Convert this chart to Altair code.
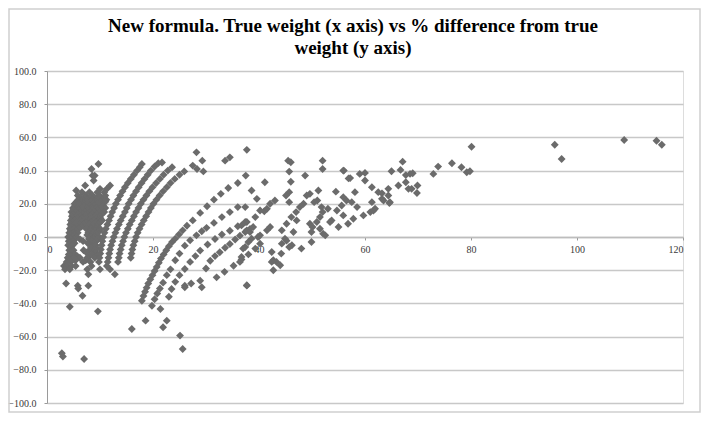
import altair as alt
import pandas as pd

# ---- data ----
title_lines = ["New formula. True weight (x axis) vs % difference from true", "weight (y axis)"]
x_ticks = [0, 20, 40, 60, 80, 100, 120]
y_ticks = [-100, -80, -60, -40, -20, 0, 20, 40, 60, 80, 100]

# dense cloud at low true weight: (y level, x positions)
blob_rows = [
    (44, [9.7]), (41, [8.4]), (37, [8.6, 9.0]), (34, [8.8]), (31, [7.2, 11.9]),
    (29, [10.0, 11.3]), (28, [5.5]), (27, [6.6, 8.0, 9.5, 10.8]), (25, [5.8, 7.3, 8.6, 9.9, 11.0]),
    (23.75, [6.3, 7.2, 8.1, 9.0, 9.9, 10.8]),
    (22.5, [5.9, 6.7, 7.6, 8.5, 9.4, 10.3, 11.2]),
    (21.25, [5.6, 6.5, 7.4, 8.3, 9.2, 10.1, 11.0]),
    (20, [5.2, 6.0, 6.9, 7.8, 8.7, 9.6, 10.5]),
    (18.75, [5.3, 6.2, 7.1, 8.0, 8.9, 9.8, 10.6]),
    (17.5, [4.9, 5.7, 6.6, 7.5, 8.4, 9.3, 10.2, 11.0]),
    (16.25, [5.0, 5.9, 6.8, 7.7, 8.6, 9.5, 10.4]),
    (15, [4.6, 5.4, 6.3, 7.2, 8.1, 9.0, 9.9, 10.8]),
    (13.75, [4.9, 5.8, 6.7, 7.6, 8.5, 9.4, 10.3]),
    (12.5, [4.7, 5.5, 6.4, 7.3, 8.2, 9.1, 10.0]),
    (11.25, [4.8, 5.7, 6.6, 7.5, 8.4, 9.3, 10.1]),
    (10, [4.5, 5.3, 6.2, 7.1, 8.0, 8.9, 9.8, 10.4]),
    (8.75, [4.7, 5.6, 6.5, 7.4, 8.3, 9.2, 10.0]),
    (7.5, [4.4, 5.2, 6.1, 7.0, 7.9, 8.8, 9.6]),
    (6.25, [4.6, 5.5, 6.5, 7.8, 8.7, 9.5]),
    (5, [4.3, 5.1, 6.0, 7.4, 8.3, 9.2, 10.0]),
    (3.75, [4.5, 5.4, 8.2, 9.1, 9.9]),
    (2.5, [4.2, 5.0, 5.8, 7.8, 8.7, 9.5]),
    (1.25, [4.4, 5.2, 7.6, 8.6, 9.4]),
    (0, [4.0, 4.9, 5.6, 8.2, 9.0, 9.8]),
    (-1.25, [4.4, 5.3, 6.2, 7.9, 8.8, 9.6]),
    (-2.5, [4.1, 4.9, 6.8, 8.4, 9.3]),
    (-3.75, [4.4, 5.2, 7.7, 8.8]),
    (-5, [4.0, 4.8, 8.3, 9.2]),
    (-6.5, [4.5, 8.3, 9.3]),
    (-8, [4.2, 5.0, 6.9, 8.0, 9.0]),
    (-9.25, [4.6, 7.4, 9.1]),
    (-10.5, [4.1, 5.3, 8.5, 9.6]),
    (-11.5, [4.5, 5.7, 8.0]),
    (-12.5, [3.9, 5.0, 6.2, 7.6, 9.0]),
    (-14, [4.2, 5.4, 7.3]),
    (-15, [3.7, 4.5, 6.8, 8.2]),
    (-17.5, [3.2, 3.8, 4.6, 5.4, 8.4]),
    (-19.5, [3.4, 4.3, 7.6, 10.0, 11.9]),
    (-22.5, [7.8, 12.8]), (-28, [3.6]), (-29.3, [5.8, 7.8]), (-31, [5.9]),
    (-35.4, [6.7]), (-42, [4.3]), (-44.8, [9.6]),
    (-70, [2.8]), (-72, [3.0]), (-73.5, [7.0]),
]

# four dense arcs
arcA_x = [9.8, 9.9, 10.05, 10.15, 10.3, 10.45, 10.6, 10.85, 11.1, 11.4, 11.7, 12.0, 12.3, 12.65, 13.0, 13.4, 13.8, 14.25, 14.7, 15.25, 15.8, 16.4, 17.0, 17.5, 17.9]
arcA_y = [-15, -12.5, -10, -7.5, -5, -2.5, 0, 2.5, 5, 7.5, 10, 12.5, 15, 17.5, 20, 22.5, 25, 27.5, 30, 32.5, 35, 37.5, 40, 42, 44]
arcB_x = [11.3, 11.45, 11.6, 11.75, 11.9, 12.1, 12.35, 12.6, 12.9, 13.2, 13.55, 13.9, 14.3, 14.7, 15.05, 15.4, 15.85, 16.3, 16.8, 17.3, 17.85, 18.4, 19.0, 19.6, 20.3, 21.0]
arcB_y = [-17.5, -15, -12.5, -10, -7.5, -5, -2.5, 0, 2.5, 5, 7.5, 10, 12.5, 15, 17.5, 20, 22.5, 25, 27.5, 30, 32.5, 35, 37.5, 40, 42.5, 44.5]
arcC_x = [13.4, 13.55, 13.7, 13.9, 14.1, 14.35, 14.6, 14.9, 15.25, 15.6, 16.0, 16.4, 16.8, 17.25, 17.7, 18.2, 18.75, 19.3, 19.9, 20.6, 21.3, 22.0, 22.8, 23.6]
arcC_y = [-15, -12.5, -10, -7.5, -5, -2.5, 0, 2.5, 5, 7.5, 10, 12.5, 15, 17.5, 20, 22.5, 25, 27.5, 30, 32.5, 35, 37.5, 40, 42]
arcD_x = [15.8, 15.95, 16.1, 16.3, 16.55, 16.8, 17.1, 17.45, 17.85, 18.25, 18.7, 19.15, 19.6, 20.1, 20.65, 21.25, 21.9, 22.6, 23.3, 24.1, 25.0, 25.9]
arcD_y = [-12.5, -10, -7.5, -5, -2.5, 0, 2.5, 5, 7.5, 10, 12.5, 15, 17.5, 20, 22.5, 25, 27.5, 30, 32.5, 35, 37.5, 39.5]

# middle group of sloping bands
mid_pts = [
    (17.9, -38.4), (18.2, -35.5), (18.5, -33), (18.8, -30.5), (19.1, -28), (19.5, -25.5), (19.9, -23),
    (20.3, -20.5), (20.7, -18), (21.1, -15.5), (21.5, -13), (22.0, -10.5), (22.5, -8), (23.0, -5.5),
    (23.6, -3), (24.2, -1), (24.9, 1.5), (25.6, 4), (26.4, 6.8),
    (27.5, 10), (28.9, 14.5), (30.2, 18.5), (31.5, 22.5), (32.8, 26), (34.2, 29.5), (36.0, 32.5), (37.5, 37),
    (19.8, -41.4), (20.3, -37.5), (20.8, -34), (21.3, -31), (21.9, -27.5), (22.6, -23), (23.3, -19.5),
    (24.2, -14), (25.0, -10), (26.0, -5.2), (27.0, -2), (28.2, 1), (29.2, 3.5), (30.1, 5.5), (31.5, 8.5),
    (33.0, 12), (34.5, 15), (36.0, 18),
    (23.0, -36), (23.5, -31.3), (24.2, -27), (25.0, -23), (26.0, -19.3), (27.0, -15), (28.0, -11.5),
    (28.9, -8.2), (30.3, -4.5), (31.7, -1.2), (33.0, 1.5), (34.5, 3.8), (36.0, 6.5), (37.7, 9),
    (39.3, 12), (41.0, 15.5),
    (26.0, -30.3), (27.2, -28), (28.9, -26.3), (30.0, -19), (30.8, -14.3), (31.7, -11.5), (32.6, -9.2),
    (33.6, -6.5), (34.5, -4.2), (35.5, -1.5), (36.4, 0.8), (37.4, 3), (38.3, 4.8),
    (32.0, -24.3), (33.5, -21), (35.2, -17.3), (36.7, -13.5), (38.0, -10.5), (39.3, -7), (40.2, -4),
    (16.0, -55.4), (18.6, -50.4), (21.4, -43.4), (21.9, -54.4), (22.6, -50.4), (25.1, -59.4),
    (25.6, -67.5), (26.0, -29.3), (29.2, -30.3), (37.7, -29.3),
    (21.7, 44.9), (27.5, 43), (28.3, 41), (29.5, 39.5), (28.2, 51), (29.3, 46), (33.6, 46), (34.5, 48),
    (37.7, 52.5),
]

# scattered points at higher true weight
right_pts = [
    (45.5, 46), (46, 45), (45.7, 39.4), (46, 33.3), (45.7, 27), (45.1, 25), (45.7, 21), (52, 46), (52, 41),
    (48.7, 37), (49.6, 26), (49, 25), (51.2, 28), (51, 22), (50.4, 21), (54.5, 27.3), (56, 40), (57.2, 35.5),
    (59, 38), (60, 38.6), (60, 34), (58.1, 27), (55.9, 24), (56.5, 22), (55.6, 19), (54.7, 16), (57.5, 21),
    (55.9, 13), (53.7, 10), (53.4, 9), (55, 6), (52.1, 2), (52.5, 1), (51.5, 12), (52, 15), (53, 17),
    (51.8, 18), (50.9, 9), (50.1, 6), (49.9, 3), (51.5, 5), (49.6, 8), (48, -7), (49.9, -3), (47.7, 18),
    (44.3, 4), (45.2, 8), (46.1, 12), (47, 15), (48.4, 20), (47.1, 10), (46.5, 3), (46.2, -5), (45.7, -6),
    (44.9, -1), (44.3, -4), (44.2, -10), (43.3, -15), (42.7, -20), (44, -17), (42.4, -15), (41.1, 33),
    (38.6, 28), (39.6, 23), (43, 22), (42.1, 20), (41.5, 17), (40.2, 16), (37.4, 18), (37.4, 9), (36.7, 7),
    (37.7, 4), (38.3, 3), (38.9, 6), (38.6, -1), (38, -3), (37.4, -6), (37, -7), (41.5, 4), (42.1, 6),
    (40.2, 1), (39.8, 0), (42.4, -9), (42.7, -14), (36.7, -12), (36.4, -15), (37.7, -29), (45.2, -2.2),
    (80.1, 54.4), (78.2, 42), (79.2, 39), (79.8, 39.6), (76.4, 44.4), (73.8, 42.4), (72.9, 38), (67.1, 45.4),
    (65, 39.6), (66.7, 40.4), (67.7, 37.3), (68.5, 38), (69, 38.4), (66.3, 31), (67.7, 33), (68.2, 29),
    (68.8, 29), (69.9, 31), (69.8, 26.5), (64.4, 29), (61.3, 30), (62.5, 27), (63.2, 26.3), (63.2, 23),
    (64.4, 25), (64.7, 21), (61.3, 21), (61.9, 17), (61, 15), (59.7, 13), (61.6, 16), (63.5, 22),
    (64.6, 20.5), (55.9, 40), (56.9, 35.3), (58.5, 18), (57.8, 11), (56.8, 8),
    (95.8, 55.6), (97.1, 47), (108.9, 58.4), (115, 58), (116, 55.6),
]

# ---- assemble table ----
xs, ys = [], []
for yv, xl in blob_rows:
    for xv in xl:
        xs.append(xv); ys.append(yv)
for ax_, ay_ in [(arcA_x, arcA_y), (arcB_x, arcB_y), (arcC_x, arcC_y), (arcD_x, arcD_y)]:
    xs += ax_; ys += ay_
for xv, yv in mid_pts + right_pts:
    xs.append(xv); ys.append(yv)
df = pd.DataFrame({"x": xs, "y": ys})

W, H = 636, 332
label_font = "Liberation Serif"

points = alt.Chart(df).mark_point(
    shape="diamond", filled=True, size=62, color="#6b6b6b", opacity=1
).encode(
    x=alt.X("x:Q", scale=alt.Scale(domain=[0, 120], nice=False, zero=False),
            axis=alt.Axis(values=x_ticks, title=None, grid=False, offset=-H / 2,
                          domainColor="#bdbdbd", domainWidth=1.5, tickColor="#9a9a9a",
                          tickSize=3, labelFont=label_font, labelFontSize=10,
                          labelColor="#3a3a3a", labelPadding=4, format="d")),
    y=alt.Y("y:Q", scale=alt.Scale(domain=[-100, 100], nice=False),
            axis=alt.Axis(values=y_ticks, title=None, format=".1f", grid=True,
                          gridColor="#c8c8c8", gridWidth=1.5, domainColor="#9a9a9a",
                          tickColor="#9a9a9a", tickSize=3, labelFont=label_font,
                          labelFontSize=10, labelColor="#3a3a3a", labelPadding=8)),
)

frame = alt.Chart(pd.DataFrame({"a": [0]})).mark_rect(
    fill=None, stroke="#cfcfcf", strokeWidth=1.5
).encode(x=alt.value(-38), x2=alt.value(653), y=alt.value(-62), y2=alt.value(341))

title1 = alt.Chart(pd.DataFrame({"t": [title_lines[0]]})).mark_text(
    font=label_font, fontSize=19, fontWeight="bold", color="#000000", align="center",
    baseline="alphabetic"
).encode(text="t:N", x=alt.value(306), y=alt.value(-39))
title2 = alt.Chart(pd.DataFrame({"t": [title_lines[1]]})).mark_text(
    font=label_font, fontSize=19, fontWeight="bold", color="#000000", align="center",
    baseline="alphabetic"
).encode(text="t:N", x=alt.value(306), y=alt.value(-17))

chart = alt.layer(frame, points, title1, title2).properties(
    width=W, height=H,
    autosize=alt.AutoSizeParams(type="none"),
    padding={"left": 39, "top": 63, "right": 18, "bottom": 10},
).configure_view(stroke=None).configure(background="white")

chart.save("out.html", embed_options={"renderer": "svg", "actions": False})
